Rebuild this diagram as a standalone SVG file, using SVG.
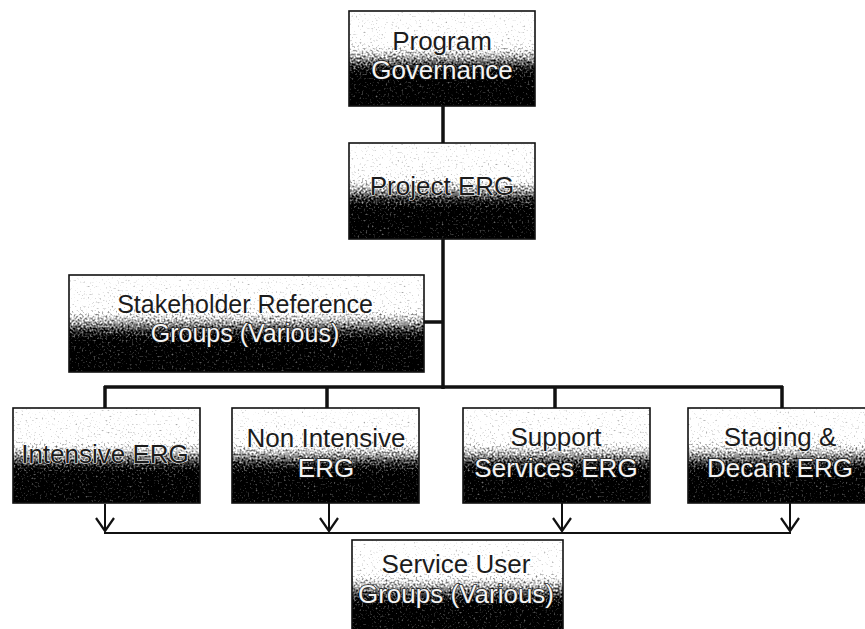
<svg xmlns="http://www.w3.org/2000/svg" width="865" height="629" viewBox="0 0 865 629">
  <defs>
    <!-- light top fading to black bottom -->
    <linearGradient id="boxFill" x1="0" y1="0" x2="0" y2="1">
      <stop offset="0" stop-color="#ffffff"/>
      <stop offset="0.34" stop-color="#f2f2f2"/>
      <stop offset="0.47" stop-color="#a8a8a8"/>
      <stop offset="0.58" stop-color="#4c4c4c"/>
      <stop offset="0.7" stop-color="#161616"/>
      <stop offset="1" stop-color="#0e0e0e"/>
    </linearGradient>
    <!-- speckled texture over the gradient -->
    <filter id="grain" x="0" y="0" width="1" height="1" color-interpolation-filters="sRGB">
      <feTurbulence type="fractalNoise" baseFrequency="0.5" numOctaves="2" seed="7" result="noise"/>
      <feColorMatrix in="noise" type="matrix" result="gray"
        values="1 0 0 0 0  1 0 0 0 0  1 0 0 0 0  0 0 0 0 1"/>
      <feComposite in="SourceGraphic" in2="gray" operator="arithmetic" k1="0" k2="1" k3="1.1" k4="-0.55" result="mix"/>
      <feComponentTransfer in="mix">
        <feFuncR type="linear" slope="1.55" intercept="-0.27"/>
        <feFuncG type="linear" slope="1.55" intercept="-0.27"/>
        <feFuncB type="linear" slope="1.55" intercept="-0.27"/>
        <feFuncA type="linear" slope="0" intercept="1"/>
      </feComponentTransfer>
    </filter>
    <!-- open V head, drawn pointing along +x -->
    <marker id="vee" viewBox="0 0 16 20" refX="14" refY="10" markerWidth="16" markerHeight="20" markerUnits="userSpaceOnUse" orient="auto">
      <path d="M1 1 L14 10 L1 19" fill="none" stroke="#111" stroke-width="2.2"/>
    </marker>
  </defs>
  <style>
    .fill { fill: url(#boxFill); filter: url(#grain); }
    .edge { fill: none; stroke: #111; stroke-width: 1.6; }
    text { font-family: "Liberation Sans", Arial, sans-serif; font-size: 26px; text-anchor: middle; }
    .small { font-size: 25px; }
    .dark { fill: #1c1c1c; stroke: #ffffff; stroke-width: 1.2; paint-order: stroke; }
    .light { fill: #f4f4f4; stroke: #1a1a1a; stroke-width: 1.4; paint-order: stroke; }
    .thick { stroke: #111; stroke-width: 3.5; fill: none; }
    .thin { stroke: #111; stroke-width: 2; fill: none; }
  </style>

  <rect width="865" height="629" fill="#ffffff"/>

  <!-- connectors -->
  <g id="connectors">
    <path class="thick" d="M443 106 V143"/>
    <path class="thick" d="M443 239 V389"/>
    <path class="thick" d="M424 322 H443"/>
    <path class="thick" d="M104 387 H783"/>
    <path class="thick" d="M105 386 V408"/>
    <path class="thick" d="M327 386 V408"/>
    <path class="thick" d="M555 386 V408"/>
    <path class="thick" d="M782 386 V408"/>
    <path class="thin" d="M104 533 H791"/>
    <path class="thin" d="M105 504 V531" marker-end="url(#vee)"/>
    <path class="thin" d="M329 503 V531" marker-end="url(#vee)"/>
    <path class="thin" d="M562 503 V531" marker-end="url(#vee)"/>
    <path class="thin" d="M790 503 V531" marker-end="url(#vee)"/>
  </g>

  <g id="program-governance">
    <rect class="fill" x="349" y="11" width="186" height="95"/>
    <rect class="edge" x="349" y="11" width="186" height="95"/>
    <text class="dark" x="442" y="50">Program</text>
    <text class="light" x="442" y="79">Governance</text>
  </g>

  <g id="project-erg">
    <rect class="fill" x="349" y="143" width="186" height="96"/>
    <rect class="edge" x="349" y="143" width="186" height="96"/>
    <text class="dark" x="442" y="195">Project ERG</text>
  </g>

  <g id="stakeholder-groups">
    <rect class="fill" x="69" y="275" width="355" height="97"/>
    <rect class="edge" x="69" y="275" width="355" height="97"/>
    <text class="dark small" x="245" y="313">Stakeholder Reference</text>
    <text class="light small" x="245" y="342">Groups (Various)</text>
  </g>

  <g id="intensive-erg">
    <rect class="fill" x="13" y="408" width="187" height="95"/>
    <rect class="edge" x="13" y="408" width="187" height="95"/>
    <text class="dark" x="105" y="463">Intensive ERG</text>
  </g>

  <g id="non-intensive-erg">
    <rect class="fill" x="232" y="408" width="187" height="95"/>
    <rect class="edge" x="232" y="408" width="187" height="95"/>
    <text class="dark" x="326" y="447">Non Intensive</text>
    <text class="light" x="326" y="477">ERG</text>
  </g>

  <g id="support-services-erg">
    <rect class="fill" x="463" y="408" width="187" height="95"/>
    <rect class="edge" x="463" y="408" width="187" height="95"/>
    <text class="dark" x="556" y="446">Support</text>
    <text class="light" x="556" y="477">Services ERG</text>
  </g>

  <g id="staging-decant-erg">
    <rect class="fill" x="688" y="408" width="187" height="95"/>
    <rect class="edge" x="688" y="408" width="187" height="95"/>
    <text class="dark" x="780" y="446">Staging &amp;</text>
    <text class="light" x="780" y="477">Decant ERG</text>
  </g>

  <g id="service-user-groups">
    <rect class="fill" x="352" y="540" width="211" height="96"/>
    <rect class="edge" x="352" y="540" width="211" height="96"/>
    <text class="dark" x="456" y="573">Service User</text>
    <text class="light" x="456" y="603">Groups (Various)</text>
  </g>
</svg>
